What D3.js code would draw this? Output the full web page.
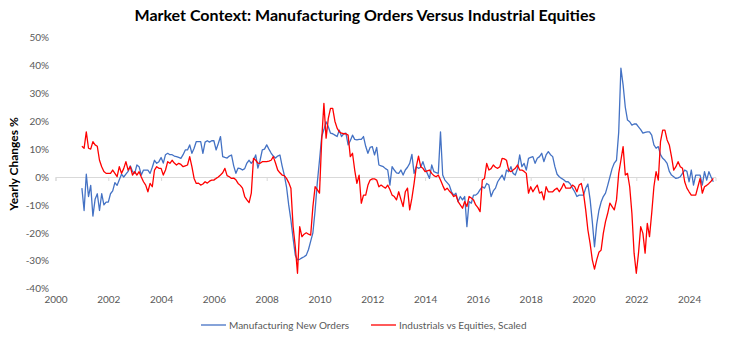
<!DOCTYPE html>
<html>
<head>
  <meta charset="utf-8">
  <title>Market Context</title>
  <style>
    body { margin: 0; background: #fff; }
    svg#canvas { display: block; font-family: Lato, "Open Sans", sans-serif; }
  </style>
</head>
<body>
  <svg id="canvas"></svg>
  <script src="https://cdn.jsdelivr.net/npm/d3@7"></script>
  <script>
    // monthly series, Jan 2001 .. Dec 2024 (one line per year)
    const startYear = 2001;
    const mfgOrders = [
      -4, -12, 1, -7, -3, -14, -8, -6, -12, -6, -10, -9,
      -9, -6, -5, -2, -3, -1, 1, 0, 1, 2, 4, 2,
      1.3, 4.3, 3.7, 0.7, 2.5, 2.5, 2.5, 1.3, 3.5, 6, 4.9, 5.5,
      7, 5, 8, 8.5, 8, 8, 7.5, 7.3, 7, 6.7, 8, 9.7,
      9.7, 11.5, 8.5, 10.3, 12.7, 12.7, 12.7, 8.5, 12.5, 13, 12.5, 13,
      13, 9.7, 12, 14.5, 7.3, 7, 6.8, 7.5, 7.9, 4, 1.3, 3.2,
      3, 2.5, 3, 5, 6, 4.9, 6, 7.9, 3.2, 6, 9.7, 10,
      11.5, 10, 8.6, 7.5, 6.8, 7.5, 7.9, 4, 0.7, -3.5, -10, -15.4,
      -22, -28, -29.7, -29.5, -29, -28.6, -28, -26, -23, -20, -12, -2,
      6, 14.5, 17, 19.8, 18, 15.7, 15.5, 15, 14.5, 16.8, 14.5, 15.5,
      15.7, 11.5, 13, 15, 13.5, 13.3, 13.5, 13.5, 14.5, 11, 8.5, 10.6,
      10.9, 7.9, 10.6, 4.3, 4, 3.7, 3, 2.5, -2.9, 3.7, 2.5, 1.5,
      1.3, 2.5, 0.7, 2.5, 3.5, 4.9, 8.1, 1.3, 3.7, 3.1, 3.5, 5.5,
      3, 1.3, -0.5, 4.3, 1.9, 1.6, 1.3, 16.2, 0.7, -1.1, -2, -2.9,
      -5.3, -6.5, -5.8, -8.8, -7, -8.2, -7, -17.8, -8.8, -9.4, -6.5, -6.5,
      -5.8, -4.5, -3.5, -4, -2.3, -2.9, -7, -5, -4, -1.7, -0.5, 0.7,
      -1.1, 2.5, 1.9, 3.7, 1.3, 0.7, 3, 7.9, 3.7, 4.9, 2.5, 6.7,
      7, 7.3, 4.9, 6.7, 7.3, 8.5, 5.5, 7.9, 9.1, 8, 7.3, 3.7,
      1, 0.1, -0.5, -1, -1.7, -1.7, -2.5, -4, -5.3, -7, -6.5, -6.5,
      -6.5, -4, -2.5, -8, -16, -25, -17, -12, -9, -7, -5.8, -3,
      0, 3, 5, 6, 16, 39, 33, 25, 20.4, 19.8, 18.6, 19,
      19, 18, 17, 15.7, 16, 16.2, 16.2, 15, 11.5, 10.3, 10.9, 8,
      6.7, 6, 4.9, 2, 0.7, 0.1, -0.5, -0.3, 0.1, 1.3, 2.5, 2,
      -1.7, 2.5, -2.9, 0.7, 0.7, 0.7, -2.9, 1.9, -1.1, 1.9, 0, -1.7
    ];
    const indVsEq = [
      11, 10.3, 16.2, 10.3, 10, 12.7, 11.5, 11, 6, 3.7, 2, 1.3,
      1.3, 1.3, 2.5, 1.3, 0.1, 3.7, 1.3, 3, 5.5, 2.5, 3.7, 0.7,
      1.9, 0.7, 1.9, 0, -1.7, -2.9, -5.3, -2.3, -3.5, 2.5, 3.7, 3.1,
      3.1, 0.7, 2.5, 5.5, 4.9, 6, 5, 4.3, 4.9, 4.5, 3.7, 4,
      4.3, 7.3, 3.7, -0.5, -2.3, -2.2, -2.9, -2.5, -1.7, -2.2, -1.5, -1.1,
      -1.1, -0.5, 0, 0.7, 1.5, 3.1, 0.5, 0.1, -0.5, -0.4, -1, -2.3,
      -3, -4, -7, -8.2, -9.2, -5.8, 6.7, 6, 5, 4.9, 5.5, 5.5,
      5.5, 5.7, 6, 7.3, 5, 2.5, 1.5, 0.7, 0.5, -0.5, -2, -4,
      -17.8, -25, -34.5, -17.8, -21.4, -20.5, -20, -20.5, -20.8, -10.6, -3.5, -4.5,
      -5.8, 13.3, 26.4, 13.9, 21, 24.6, 24.6, 20, 17.5, 16.2, 15.7, 15.5,
      15.5, 15, 7.3, 8.5, 2.5, -2.3, 0.7, -9.4, -6.5, -6.5, -3, -1.1,
      -0.7, -0.7, -1.1, -3.5, -2.9, -3.5, -4, -2.9, -4.5, -6.5, -7, -8.2,
      -5.3, -8, -10.6, -5.3, -4, -11.8, -7.6, -2.3, 3.7, 7.5, 3.7, 3.1,
      1.9, 2.2, 2.5, 1.3, 0.5, 0.1, 0.7, -1.1, -3, -4.7, -4, -5,
      -5.8, -7, -6.5, -8.8, -10, -11.2, -8.8, -10.6, -7, -7.5, -8.2, -10,
      -11, -12.4, -1.1, -0.5, 4.9, 2.5, 3, 4.3, 3.5, 3.1, 3.7, 6.7,
      6.5, 6, 2.5, 1.9, 2.5, 3.1, 4.3, 2.5, 2.5, 2, 1.3, -5.8,
      -3.5, -5.3, -4, -2.9, -5.8, -5.3, -8.2, -3.5, -5.3, -5.3, -5.3, -4.5,
      -4, -5.3, -4, -2.3, -4, -4, -4, -2.9, -3.5, -5.3, -2.9, -2.3,
      -5.8, -11.8, -19, -23.8, -29.7, -33, -29.7, -27, -26.2, -20.2, -16, -13,
      -9.4, -10.6, -11.8, -8.2, 1.3, 6, 10.9, 0.7, 1.3, -3.5, -13, -27.3,
      -34.5, -27.3, -17.8, -20.2, -27.3, -16.6, -21.4, -13, -3.5, 1.9, -1.1, 12.7,
      16.8, 16.8, 13.3, 11.5, 7.3, 2.5, 3.7, 5.5, 3.7, 3.1, -1.7, -4,
      -5.3, -6.5, -6.5, -6.5, -3.5, -0.5, -5.8, -3.5, -3, -2.3, -1.5, -0.5
    ];
    const seriesNames = ["Manufacturing New Orders", "Industrials vs Equities, Scaled"];
    const seriesColors = ["#4472c4", "#ff0000"];
    const yTicks = [-40, -30, -20, -10, 0, 10, 20, 30, 40, 50];
    const xTicks = [2000, 2002, 2004, 2006, 2008, 2010, 2012, 2014, 2016, 2018, 2020, 2022, 2024];

    const W = 732, H = 346;
    const svg = d3.select("svg#canvas").attr("width", W).attr("height", H);

    const x = d3.scaleLinear().domain([2000, 2025]).range([55.5, 715.5]);
    const y = d3.scaleLinear().domain([-40, 50]).range([288.6, 37.5]);

    // title
    svg.append("text")
      .attr("x", 365).attr("y", 21)
      .attr("text-anchor", "middle")
      .style("font-size", "16px").style("font-weight", "bold").style("fill", "#000")
      .text("Market Context: Manufacturing Orders Versus Industrial Equities");

    // y axis title
    svg.append("text")
      .attr("transform", "translate(18,164) rotate(-90)")
      .attr("text-anchor", "middle")
      .style("font-size", "12px").style("font-weight", "bold").style("fill", "#000")
      .text("Yearly Changes %");

    // y labels (no axis line in the original)
    const yAxis = svg.append("g")
      .attr("transform", "translate(49,0)")
      .call(d3.axisLeft(y).tickValues(yTicks).tickSize(0).tickPadding(0).tickFormat(d => d + "%"));
    yAxis.select(".domain").remove();

    // zero line with small tick marks
    const zeroAxis = svg.append("g")
      .attr("transform", "translate(0," + y(0) + ")")
      .call(d3.axisBottom(x).tickValues(xTicks).tickSize(4).tickFormat(""));
    zeroAxis.selectAll("path, line").attr("stroke", "#d9d9d9");

    // x labels at the bottom
    const xAxis = svg.append("g")
      .attr("transform", "translate(0,296)")
      .call(d3.axisBottom(x).tickValues(xTicks).tickSize(0).tickPadding(0).tickFormat(d3.format("d")));
    xAxis.select(".domain").remove();

    svg.selectAll(".tick text")
      .style("font-family", "Lato, sans-serif").style("font-size", "10px").style("fill", "#595959");

    const line = d3.line()
      .x((d, i) => x(startYear + i / 12))
      .y(d => y(d));

    [mfgOrders, indVsEq].forEach((s, k) => {
      svg.append("path")
        .datum(s)
        .attr("fill", "none")
        .attr("stroke", seriesColors[k])
        .attr("stroke-width", 1.3)
        .attr("stroke-linejoin", "round")
        .attr("d", line);
    });

    // legend
    const legendX = [201, 371];
    seriesNames.forEach((name, k) => {
      const g = svg.append("g").attr("transform", "translate(" + legendX[k] + ",325)");
      g.append("line").attr("x1", 0).attr("x2", 25).attr("y1", 0).attr("y2", 0)
        .attr("stroke", seriesColors[k]).attr("stroke-width", 1.3);
      g.append("text").attr("x", 28).attr("y", 3.5)
        .style("font-size", "10px").style("fill", "#595959")
        .text(name);
    });
  </script>
</body>
</html>
